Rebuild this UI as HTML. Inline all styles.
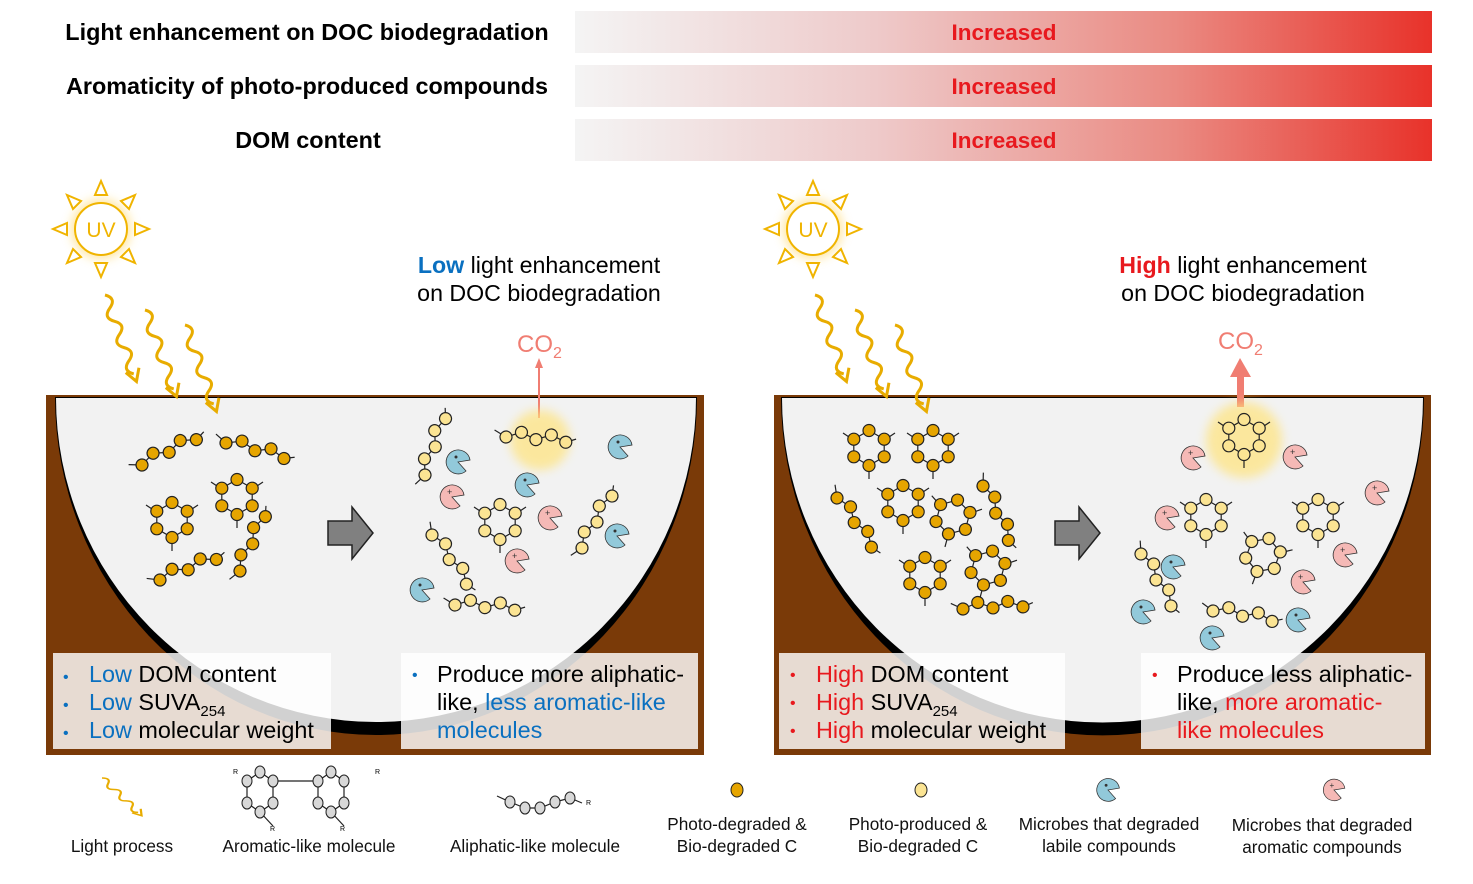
<!DOCTYPE html>
<html><head><meta charset="utf-8"><style>
html,body{margin:0;padding:0;background:#fff;}
svg{display:block;font-family:"Liberation Sans",sans-serif;}
</style></head><body>
<svg width="1473" height="884" viewBox="0 0 1473 884" xmlns="http://www.w3.org/2000/svg">
<defs>
<linearGradient id="bar" x1="0" x2="1" y1="0" y2="0">
<stop offset="0" stop-color="#f4f4f4"/><stop offset="0.35" stop-color="#eecaca"/><stop offset="0.7" stop-color="#ea8a82"/><stop offset="1" stop-color="#e8322a"/>
</linearGradient>
<filter id="glow" x="-50%" y="-50%" width="200%" height="200%"><feGaussianBlur stdDeviation="5"/></filter>
<g id="ringD" stroke="#222" stroke-width="1.2">
<polygon points="0,-17.5 15.2,-8.8 15.2,8.8 0,17.5 -15.2,8.8 -15.2,-8.8" fill="none"/>
<line x1="0" y1="23" x2="0" y2="31"/><line x1="-20" y1="-11" x2="-26" y2="-15"/><line x1="20" y1="-11" x2="26" y2="-15"/>
<g fill="#e6a500"><circle cx="0" cy="-17.5" r="6"/><circle cx="15.2" cy="-8.8" r="6"/><circle cx="15.2" cy="8.8" r="6"/><circle cx="0" cy="17.5" r="6"/><circle cx="-15.2" cy="8.8" r="6"/><circle cx="-15.2" cy="-8.8" r="6"/></g>
</g>
<g id="ringL" stroke="#222" stroke-width="1.2">
<polygon points="0,-17.5 15.2,-8.8 15.2,8.8 0,17.5 -15.2,8.8 -15.2,-8.8" fill="none"/>
<line x1="0" y1="23" x2="0" y2="31"/><line x1="-20" y1="-11" x2="-26" y2="-15"/><line x1="20" y1="-11" x2="26" y2="-15"/>
<g fill="#fbe493"><circle cx="0" cy="-17.5" r="6"/><circle cx="15.2" cy="-8.8" r="6"/><circle cx="15.2" cy="8.8" r="6"/><circle cx="0" cy="17.5" r="6"/><circle cx="-15.2" cy="8.8" r="6"/><circle cx="-15.2" cy="-8.8" r="6"/></g>
</g>
<g id="chD" stroke="#222" stroke-width="1.2">
<polyline points="-12,-6 0,0 15,-6 30,0 45,-6 60,0 70,-4" fill="none"/>
<g fill="#e6a500"><circle cx="0" cy="0" r="6"/><circle cx="15" cy="-6" r="6"/><circle cx="30" cy="0" r="6"/><circle cx="45" cy="-6" r="6"/><circle cx="60" cy="0" r="6"/></g>
</g>
<g id="chL" stroke="#222" stroke-width="1.2">
<polyline points="-12,-6 0,0 15,-6 30,0 45,-6 60,0 70,-4" fill="none"/>
<g fill="#fbe493"><circle cx="0" cy="0" r="6"/><circle cx="15" cy="-6" r="6"/><circle cx="30" cy="0" r="6"/><circle cx="45" cy="-6" r="6"/><circle cx="60" cy="0" r="6"/></g>
</g>
<g id="pacB"><path d="M0,0 L12,-2 A12,12 0 1 0 8,9 Z" fill="#92c9da" stroke="#333" stroke-width="0.8"/><circle cx="-2" cy="-5" r="1.5" fill="#333"/></g>
<g id="pacP"><path d="M0,0 L12,-2 A12,12 0 1 0 8,9 Z" fill="#f5b9b6" stroke="#333" stroke-width="0.8"/><text x="-5" y="-2" font-size="9" fill="#333">+</text></g>
<g id="wave" fill="none" stroke="#e8ac00" stroke-width="3">
<path d="M0,0 q10,7 0,14 t0,14 t0,14 t0,14 t0,14 t0,14"/>
<polyline points="-7,80 0,92 7,80"/>
</g>
<g id="sun">
<g filter="url(#glow)" opacity="0.6"><circle r="30" fill="#ffd766"/></g>
<circle r="26" fill="#fff" stroke="#f0b400" stroke-width="2"/>
<g fill="#fff" stroke="#f0b400" stroke-width="2">
<polygon points="-6,-34 6,-34 0,-48"/><polygon points="-6,34 6,34 0,48"/><polygon points="-34,-6 -34,6 -48,0"/><polygon points="34,-6 34,6 48,0"/>
<polygon points="-20,-28 -28,-20 -34,-34"/><polygon points="20,-28 28,-20 34,-34"/><polygon points="-20,28 -28,20 -34,34"/><polygon points="20,28 28,20 34,34"/>
</g>
<text x="0" y="8" text-anchor="middle" font-size="21" fill="#f0b400">UV</text>
</g>
<g id="bigArrow"><polygon points="0,-12 24,-12 24,-26 45,0 24,26 24,12 0,12" fill="#808080" stroke="#222" stroke-width="1.5"/></g>
</defs>

<rect x="575" y="11" width="857" height="42" fill="url(#bar)"/>
<rect x="575" y="65" width="857" height="42" fill="url(#bar)"/>
<rect x="575" y="119" width="857" height="42" fill="url(#bar)"/>
<g font-weight="bold" font-size="23.4">
<text x="307" y="40" text-anchor="middle">Light enhancement on DOC biodegradation</text>
<text x="307" y="94" text-anchor="middle">Aromaticity of photo-produced compounds</text>
<text x="308" y="148" text-anchor="middle">DOM content</text>
<g fill="#e8191e" text-anchor="middle" font-size="22.5"><text x="1004" y="40">Increased</text><text x="1004" y="94">Increased</text><text x="1004" y="148">Increased</text></g>
</g>

<!-- LEFT PANEL -->
<rect x="46" y="395" width="658" height="360" fill="#7a3a08"/>
<path d="M55,397 A321,338 0 0 0 697,397 Z" fill="#000"/>
<path d="M56,398 A320,324 0 0 0 696,398 Z" fill="#f2f2f2"/>
<use href="#sun" x="101" y="229"/>
<use href="#wave" transform="translate(105,295) rotate(-20)"/>
<use href="#wave" transform="translate(145,310) rotate(-20)"/>
<use href="#wave" transform="translate(185,325) rotate(-20)"/>
<text x="539" y="273" text-anchor="middle" font-size="23.2"><tspan fill="#0a70c0" font-weight="bold">Low</tspan> light enhancement</text>
<text x="539" y="301" text-anchor="middle" font-size="23.2">on DOC biodegradation</text>
<text x="517" y="352" font-size="24" fill="#f07d72">CO<tspan font-size="16" dy="6">2</tspan></text>
<line x1="539" y1="418" x2="539" y2="365" stroke="#f07d72" stroke-width="2"/>
<polygon points="535,368 539,358 543,368" fill="#f07d72"/>
<use href="#chD" transform="translate(142,465) rotate(-25)"/>
<use href="#chD" transform="translate(226,443) rotate(15)"/>
<use href="#ringD" transform="translate(172,520)"/>
<use href="#ringD" transform="translate(237,497)"/>
<use href="#chD" transform="translate(160,580) rotate(-20)"/>
<use href="#chD" transform="translate(240,571) rotate(-65)"/>
<use href="#bigArrow" x="328" y="533"/>
<circle cx="540" cy="440" r="30" fill="#ffe37a" filter="url(#glow)" opacity="0.7"/>
<use href="#chL" transform="translate(506,437) rotate(5)"/>
<use href="#chL" transform="translate(425,475) rotate(-70)"/>
<use href="#ringL" transform="translate(500,522)"/>
<use href="#chL" transform="translate(432,535) rotate(55)"/>
<use href="#chL" transform="translate(582,548) rotate(-60)"/>
<use href="#chL" transform="translate(455,605) rotate(5)"/>
<use href="#pacB" x="458" y="462"/><use href="#pacB" x="620" y="447"/><use href="#pacB" x="527" y="485"/>
<use href="#pacB" x="617" y="536"/><use href="#pacB" x="422" y="590"/>
<use href="#pacP" x="452" y="497"/><use href="#pacP" x="550" y="518"/><use href="#pacP" x="517" y="561"/>
<rect x="53" y="653" width="278" height="96" fill="#fff" opacity="0.82"/>
<rect x="401" y="653" width="297" height="96" fill="#fff" opacity="0.82"/>
<g font-size="23.4">
<text x="63" y="682" fill="#0a70c0" font-size="16">•</text><text x="89" y="682"><tspan fill="#0a70c0">Low</tspan> DOM content</text>
<text x="63" y="710" fill="#0a70c0" font-size="16">•</text><text x="89" y="710"><tspan fill="#0a70c0">Low</tspan> SUVA<tspan font-size="15" dy="6">254</tspan></text>
<text x="63" y="738" fill="#0a70c0" font-size="16">•</text><text x="89" y="738"><tspan fill="#0a70c0">Low</tspan> molecular weight</text>
<text x="412" y="680" fill="#0a70c0" font-size="16">•</text><text x="437" y="682">Produce more aliphatic-</text>
<text x="437" y="710">like, <tspan fill="#0a70c0">less aromatic-like</tspan></text>
<text x="437" y="738" fill="#0a70c0">molecules</text>
</g>

<!-- RIGHT PANEL -->
<rect x="774" y="395" width="657" height="360" fill="#7a3a08"/>
<path d="M781,397 A321,338 0 0 0 1424,397 Z" fill="#000"/>
<path d="M782,398 A320,324 0 0 0 1423,398 Z" fill="#f2f2f2"/>
<use href="#sun" x="813" y="229"/>
<use href="#wave" transform="translate(815,295) rotate(-20)"/>
<use href="#wave" transform="translate(855,310) rotate(-20)"/>
<use href="#wave" transform="translate(895,325) rotate(-20)"/>
<text x="1243" y="273" text-anchor="middle" font-size="23.2"><tspan fill="#e8191e" font-weight="bold">High</tspan> light enhancement</text>
<text x="1243" y="301" text-anchor="middle" font-size="23.2">on DOC biodegradation</text>
<text x="1218" y="349" font-size="24" fill="#f07d72">CO<tspan font-size="16" dy="6">2</tspan></text>
<rect x="1237" y="372" width="7" height="35" fill="#f07d72"/>
<polygon points="1230,377 1240,358 1251,377" fill="#f07d72"/>
<use href="#ringD" transform="translate(869,448)"/>
<use href="#ringD" transform="translate(933,448)"/>
<use href="#ringD" transform="translate(903,503)"/>
<use href="#ringD" transform="translate(953,517) rotate(15)"/>
<use href="#ringD" transform="translate(925,575)"/>
<use href="#ringD" transform="translate(988,568) rotate(15)"/>
<use href="#chD" transform="translate(837,498) rotate(55)"/>
<use href="#chD" transform="translate(983,486) rotate(65)"/>
<use href="#chD" transform="translate(963,609) rotate(-2)"/>
<use href="#bigArrow" x="1055" y="533"/>
<circle cx="1244" cy="440" r="38" fill="#ffe37a" filter="url(#glow)" opacity="0.7"/>
<use href="#ringL" transform="translate(1244,437)"/>
<use href="#ringL" transform="translate(1206,517)"/>
<use href="#ringL" transform="translate(1318,517)"/>
<use href="#ringL" transform="translate(1263,555) rotate(20)"/>
<use href="#chL" transform="translate(1141,554) rotate(60)"/>
<use href="#chL" transform="translate(1213,611) rotate(10)"/>
<use href="#pacP" x="1193" y="458"/><use href="#pacP" x="1295" y="457"/><use href="#pacP" x="1167" y="518"/>
<use href="#pacP" x="1377" y="493"/><use href="#pacP" x="1345" y="555"/><use href="#pacP" x="1303" y="582"/>
<use href="#pacB" x="1173" y="567"/><use href="#pacB" x="1143" y="612"/><use href="#pacB" x="1298" y="620"/><use href="#pacB" x="1212" y="638"/>
<rect x="779" y="653" width="286" height="96" fill="#fff" opacity="0.82"/>
<rect x="1141" y="653" width="284" height="96" fill="#fff" opacity="0.82"/>
<g font-size="23.4">
<text x="790" y="680" fill="#e8191e" font-size="16">•</text><text x="816" y="682"><tspan fill="#e8191e">High</tspan> DOM content</text>
<text x="790" y="708" fill="#e8191e" font-size="16">•</text><text x="816" y="710"><tspan fill="#e8191e">High</tspan> SUVA<tspan font-size="15" dy="6">254</tspan></text>
<text x="790" y="736" fill="#e8191e" font-size="16">•</text><text x="816" y="738"><tspan fill="#e8191e">High</tspan> molecular weight</text>
<text x="1152" y="680" fill="#e8191e" font-size="16">•</text><text x="1177" y="682">Produce less aliphatic-</text>
<text x="1177" y="710">like, <tspan fill="#e8191e">more aromatic-</tspan></text>
<text x="1177" y="738" fill="#e8191e">like molecules</text>
</g>

<!-- LEGEND -->
<use href="#wave" transform="translate(102,778) scale(0.75,0.5) rotate(-35)"/>
<g stroke="#222" stroke-width="1.2" fill="none">
<polygon points="260,772 273,781 273,803 260,812 247,803 247,781"/>
<polygon points="331,772 344,781 344,803 331,812 318,803 318,781"/>
<line x1="273" y1="781" x2="318" y2="781"/>
<line x1="260" y1="812" x2="273" y2="826"/><line x1="331" y1="812" x2="344" y2="826"/>
<polyline points="497,796 510,802 525,808 540,808 555,802 570,798 582,803"/>
</g>
<g fill="#d8d8d8" stroke="#222" stroke-width="1">
<ellipse cx="260" cy="772" rx="5" ry="6"/><ellipse cx="273" cy="781" rx="5" ry="6"/><ellipse cx="273" cy="803" rx="5" ry="6"/><ellipse cx="260" cy="812" rx="5" ry="6"/><ellipse cx="247" cy="803" rx="5" ry="6"/><ellipse cx="247" cy="781" rx="5" ry="6"/>
<ellipse cx="331" cy="772" rx="5" ry="6"/><ellipse cx="344" cy="781" rx="5" ry="6"/><ellipse cx="344" cy="803" rx="5" ry="6"/><ellipse cx="331" cy="812" rx="5" ry="6"/><ellipse cx="318" cy="803" rx="5" ry="6"/><ellipse cx="318" cy="781" rx="5" ry="6"/>
<ellipse cx="510" cy="802" rx="5" ry="6"/><ellipse cx="525" cy="808" rx="5" ry="6"/><ellipse cx="540" cy="808" rx="5" ry="6"/><ellipse cx="555" cy="802" rx="5" ry="6"/><ellipse cx="570" cy="798" rx="5" ry="6"/>
</g>
<g font-size="7"><text x="233" y="774">R</text><text x="375" y="774">R</text><text x="270" y="831">R</text><text x="340" y="831">R</text><text x="586" y="805">R</text></g>
<ellipse cx="737" cy="790" rx="6" ry="7" fill="#e6a500" stroke="#222"/>
<ellipse cx="921" cy="790" rx="6" ry="7" fill="#fbe493" stroke="#222"/>
<use href="#pacB" transform="translate(1108,790) scale(0.95)"/>
<use href="#pacP" transform="translate(1334,790) scale(0.9)"/>
<g font-size="17.2" text-anchor="middle" fill="#111">
<text x="122" y="852">Light process</text>
<text x="309" y="852">Aromatic-like molecule</text>
<text x="535" y="852">Aliphatic-like molecule</text>
<text x="737" y="830">Photo-degraded &amp;</text><text x="737" y="852">Bio-degraded C</text>
<text x="918" y="830">Photo-produced &amp;</text><text x="918" y="852">Bio-degraded C</text>
<text x="1109" y="830">Microbes that degraded</text><text x="1109" y="852">labile compounds</text>
<text x="1322" y="831">Microbes that degraded</text><text x="1322" y="853">aromatic compounds</text>
</g>
</svg>
</body></html>
